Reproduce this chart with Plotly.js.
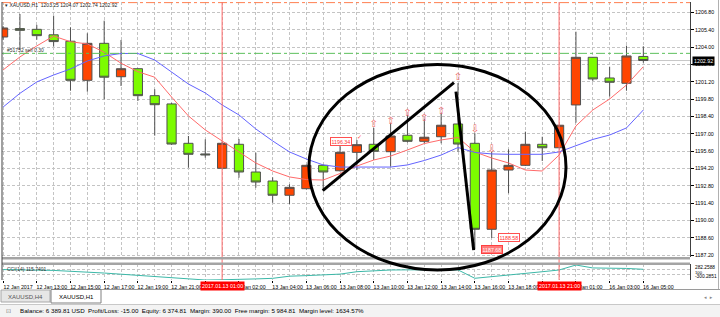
<!DOCTYPE html>
<html><head><meta charset="utf-8">
<script src="https://cdn.plot.ly/plotly-3.0.1.min.js"></script>
<style>html,body{margin:0;padding:0;background:#fff;}#chart{width:720px;height:317px;}</style>
</head><body><div id="chart"></div>
<script>
// ---- data (XAUUSD, H1) ----
const times = [
 "2017.01.12 11:00","2017.01.12 12:00","2017.01.12 13:00","2017.01.12 14:00","2017.01.12 15:00",
 "2017.01.12 16:00","2017.01.12 17:00","2017.01.12 18:00","2017.01.12 19:00","2017.01.12 20:00",
 "2017.01.12 21:00","2017.01.12 22:00","2017.01.12 23:00","2017.01.13 01:00","2017.01.13 02:00",
 "2017.01.13 03:00","2017.01.13 04:00","2017.01.13 05:00","2017.01.13 06:00","2017.01.13 07:00",
 "2017.01.13 08:00","2017.01.13 09:00","2017.01.13 10:00","2017.01.13 11:00","2017.01.13 12:00",
 "2017.01.13 13:00","2017.01.13 14:00","2017.01.13 15:00","2017.01.13 16:00","2017.01.13 17:00",
 "2017.01.13 18:00","2017.01.13 19:00","2017.01.13 20:00","2017.01.13 21:00","2017.01.16 01:00",
 "2017.01.16 02:00","2017.01.16 03:00","2017.01.16 04:00","2017.01.16 05:00"];
const open  = [1204.82,1205.50,1205.44,1205.00,1204.48,1201.32,1204.31,1201.61,1202.26,1200.08,
               1199.41,1196.23,1195.37,1194.21,1196.15,1193.91,1193.18,1192.03,1192.56,1194.45,
               1194.01,1195.50,1196.15,1195.55,1196.88,1196.39,1196.76,1197.79,1196.23,1189.28,
               1194.07,1194.45,1196.15,1195.87,1199.33,1203.18,1201.51,1201.08,1203.25];
const high  = [1205.70,1206.68,1205.80,1206.55,1205.60,1205.12,1206.14,1204.58,1202.30,1200.60,
               1199.50,1196.82,1196.55,1196.36,1196.58,1195.47,1193.48,1192.92,1194.50,1194.50,
               1196.01,1196.50,1197.47,1197.85,1198.52,1198.17,1198.66,1201.10,1197.04,1195.55,
               1195.74,1197.17,1196.76,1197.70,1205.25,1203.20,1202.42,1204.12,1204.07];
const low   = [1204.60,1203.77,1204.60,1204.04,1200.48,1200.40,1199.79,1200.86,1199.65,1196.85,
               1196.10,1194.26,1195.07,1194.20,1193.45,1192.64,1191.43,1191.32,1192.50,1192.45,
               1193.95,1194.07,1194.88,1194.34,1196.30,1196.23,1196.23,1195.55,1187.68,1188.58,
               1192.19,1194.40,1194.80,1195.85,1197.90,1201.27,1200.00,1200.48,1202.74];
const close = [1205.55,1205.36,1204.93,1204.45,1201.32,1204.31,1201.57,1202.26,1200.08,1199.35,
               1196.17,1195.34,1195.30,1196.23,1193.91,1193.10,1192.03,1192.67,1194.45,1193.91,
               1195.50,1196.12,1195.58,1196.82,1196.39,1196.72,1197.69,1196.17,1189.28,1194.07,
               1194.45,1196.15,1195.87,1197.69,1203.18,1201.43,1201.16,1203.29,1202.92];
const maFast = [1202.16,1203.21,1204.10,1204.90,1204.44,1204.26,1203.59,1202.70,1202.02,1201.57,
                1199.97,1198.44,1197.31,1196.42,1195.53,1194.64,1193.99,1193.51,1193.30,1193.26,
                1193.79,1194.39,1194.88,1195.20,1195.69,1196.21,1196.50,1196.70,1195.53,1195.04,
                1194.64,1194.07,1193.99,1195.28,1197.63,1198.92,1199.81,1200.94,1202.42];
const maSlow = [1199.16,1200.27,1201.19,1201.75,1202.24,1202.88,1203.29,1203.49,1203.49,1202.96,
                1201.99,1201.02,1200.30,1199.33,1198.52,1197.39,1196.42,1195.53,1194.96,1194.48,
                1194.31,1194.31,1194.31,1194.31,1194.48,1194.84,1195.28,1195.89,1195.49,1195.37,
                1195.34,1195.32,1195.34,1195.53,1196.05,1196.54,1196.90,1197.47,1198.92];
const cci = [104,101,97,72,38,12,-30,-75,-118,-170,
             -228,-276,-300.2851,-291,-262,-258,-236,-152,-131,-98,
             -72,22,58,88,93,96,104,92,-234,-176,
             -118,-52,21,88,282.2588,168,161,149,115.7401];
// trade arrows
const arrowUpBars   = [22,23,24,25,26,27];
const arrowUpPrice  = [1197.71,1197.98,1198.66,1198.25,1198.78,1201.53];
const arrowDnBars   = [28,29];
const arrowDnPrice  = [1197.31,1195.75];
// order levels
const stopLevel  = 1207.60;
const orderLevel = 1203.50;
const cursorBars = [13,33];
// ticks (labels partly hidden behind the cursor date boxes are cut as in the screenshot)
const tickBars = [0,2,4,6,8,10,12,14,16,18,20,22,24,26,28,30,32,34,36,38];
const tickLabels = ["12 Jan 2017","12 Jan 13:00","12 Jan 15:00","12 Jan 17:00","12 Jan 19:00","12 Jan 21:00",
  "","Jan 02:00","13 Jan 04:00","13 Jan 06:00","13 Jan 08:00","13 Jan 10:00","13 Jan 12:00",
  "13 Jan 14:00","13 Jan 16:00","13 Jan 18:00","","Jan 01:00","16 Jan 03:00","16 Jan 05:00"];
const priceTicks = [1187.20,1188.60,1190.00,1191.40,1192.80,1194.20,1195.60,1197.00,1198.40,1199.80,
                    1201.20,1202.60,1204.00,1205.40,1206.80];

// ---- drawing ----
const x = times.map((t,i)=>i);
const minorBars = x.filter(i=>i%2===1);
const F = 'Liberation Sans, Arial, sans-serif';
const FS = 5.3;
const PY = y => (280 - y) / 278;   // pixel row -> paper y
const PX = v => (v - 2) / 688;     // pixel col -> paper x
const GRID = '#c4c4c4';

const traces = [
 {type:'candlestick', x:x, open:open, high:high, low:low, close:close,
  increasing:{fillcolor:'#ff4500', line:{color:'#505050', width:1}},
  decreasing:{fillcolor:'#7cfc00', line:{color:'#505050', width:1}},
  whiskerwidth:0, hoverinfo:'none', xaxis:'x', yaxis:'y'},
 {type:'scatter', mode:'lines', x:x, y:maFast, line:{color:'#ff6a6a', width:1}, xaxis:'x', yaxis:'y', hoverinfo:'none'},
 {type:'scatter', mode:'lines', x:x, y:maSlow, line:{color:'#6464ff', width:1}, xaxis:'x', yaxis:'y', hoverinfo:'none'},
 {type:'scatter', mode:'text', x:arrowUpBars, y:arrowUpPrice, text:arrowUpBars.map(()=> '⇧'),
  textfont:{family:'DejaVu Sans', size:10, color:'#f06a6a'}, xaxis:'x', yaxis:'y', hoverinfo:'none'},
 {type:'scatter', mode:'text', x:arrowDnBars, y:arrowDnPrice, text:arrowDnBars.map(()=> '⇩'),
  textfont:{family:'DejaVu Sans', size:10, color:'#f06a6a'}, xaxis:'x', yaxis:'y', hoverinfo:'none'},
 {type:'scatter', mode:'lines', x:x, y:cci, line:{color:'#3cb8a8', width:1}, xaxis:'x', yaxis:'y2', hoverinfo:'none'}
];

const shapes = [
 {type:'line', xref:'paper', yref:'y', x0:0, x1:1, y0:stopLevel, y1:stopLevel, line:{color:'#ff7f50', width:1, dash:'dashdot'}},
 {type:'line', xref:'paper', yref:'y', x0:0, x1:1, y0:orderLevel, y1:orderLevel, line:{color:'#5cc05c', width:1, dash:'dashdot'}},
 {type:'line', xref:'paper', yref:'y', x0:0, x1:1, y0:close[close.length-1], y1:close[close.length-1], line:{color:'#c8c8c8', width:1}, layer:'below'},
 ...cursorBars.map(b=>({type:'line', xref:'x', yref:'paper', x0:b, x1:b, y0:0, y1:1, line:{color:'#ff6a6a', width:1}})),
 {type:'rect', xref:'paper', yref:'paper', x0:0, x1:1, y0:PY(259.5), y1:PY(257), fillcolor:'#a4a4a4', line:{width:0}},
 {type:'rect', xref:'paper', yref:'paper', x0:0, x1:1, y0:PY(265), y1:PY(262.5), fillcolor:'#a4a4a4', line:{width:0}},
 {type:'line', xref:'paper', yref:'paper', x0:0, x1:0, y0:0, y1:1, line:{color:'#404040', width:1}},
 {type:'line', xref:'x', yref:'y', x0:18.97, y0:1192.40, x1:26.76, y1:1201.13, line:{color:'#000', width:3}},
 {type:'line', xref:'x', yref:'y', x0:26.88, y0:1200.40, x1:27.93, y1:1187.60, line:{color:'#000', width:3}},
 {type:'circle', xref:'x', yref:'paper', x0:18.15, x1:33.41, y0:PY(270), y1:PY(64.5), line:{color:'#000', width:3}},
 {type:'rect', xref:'paper', yref:'paper', x0:PX(0), x1:PX(720), y0:PY(304), y1:PY(289), fillcolor:'#ffffff', line:{width:0}},
 {type:'line', xref:'paper', yref:'paper', x0:PX(101), x1:PX(720), y0:PY(289.5), y1:PY(289.5), line:{color:'#9a9a9a', width:1}},
 {type:'rect', xref:'paper', yref:'paper', x0:PX(1), x1:PX(50), y0:PY(302), y1:PY(290), fillcolor:'#e6e6e6', line:{color:'#a8a8a8', width:1}},
 {type:'rect', xref:'paper', yref:'paper', x0:PX(51), x1:PX(101), y0:PY(303), y1:PY(289.5), fillcolor:'#ffffff', line:{color:'#808080', width:1}},
 {type:'rect', xref:'paper', yref:'paper', x0:PX(0), x1:PX(720), y0:PY(317), y1:PY(305), fillcolor:'#f3f3f3', line:{width:0}},
 {type:'line', xref:'paper', yref:'paper', x0:PX(0), x1:PX(720), y0:PY(304.5), y1:PY(304.5), line:{color:'#c8c8c8', width:1}},
 {type:'line', xref:'paper', yref:'paper', x0:PX(718.5), x1:PX(718.5), y0:PY(289), y1:PY(0), line:{color:'#b0b0b0', width:1}}
];

const A = o => Object.assign({showarrow:false, font:{family:F, size:FS, color:'#000'}}, o);
const annotations = [
 A({xref:'paper', yref:'paper', x:PX(3), y:PY(5), xanchor:'left', yanchor:'middle', text:'▾ XAUUSD,H1  1203.25 1204.07 1202.74 1202.92', font:{family:F, size:5, color:'#222'}}),
 A({xref:'paper', yref:'paper', x:PX(5), y:PY(50), xanchor:'left', yanchor:'middle', text:'#51752 sell 0.30', font:{family:F, size:5, color:'#333'}}),
 A({xref:'paper', yref:'y', x:PX(692), y:close[close.length-1], xanchor:'left', yanchor:'middle', text:close[close.length-1].toFixed(2), bgcolor:'#000', borderpad:1, font:{family:F, size:FS, color:'#fff'}}),
 A({xref:'x', yref:'y', x:20.7, y:1196.34, xanchor:'right', yanchor:'middle', text:'1196.34', bgcolor:'#fff', bordercolor:'#ff5050', borderwidth:1, borderpad:0.5, font:{family:F, size:FS, color:'#ff3030'}}),
 A({xref:'x', yref:'y', x:20.9, y:1196.74, xanchor:'left', yanchor:'middle', text:'✓', font:{family:'DejaVu Sans', size:6, color:'#ff5050'}}),
 A({xref:'x', yref:'y', x:29.35, y:1188.58, xanchor:'left', yanchor:'middle', text:'1188.58', bgcolor:'#fff', bordercolor:'#ff5050', borderwidth:1, borderpad:0.5, font:{family:F, size:FS, color:'#ff3030'}}),
 A({xref:'x', yref:'y', x:28.35, y:1187.68, xanchor:'left', yanchor:'middle', text:'1187.68', bgcolor:'#ff7a7a', bordercolor:'#ff4040', borderwidth:1, borderpad:0.5, font:{family:F, size:FS, color:'#fff'}}),
 ...cursorBars.map(b=>A({xref:'x', yref:'paper', x:b, y:PY(285.5), xanchor:'center', yanchor:'middle', text:times[b], bgcolor:'#ff0000', borderpad:1, font:{family:F, size:FS, color:'#fff'}})),
 A({xref:'paper', yref:'paper', x:PX(5), y:PY(269), xanchor:'left', yanchor:'middle', text:'CCI(14) 115.7401', font:{family:F, size:5, color:'#333'}}),
 A({xref:'paper', yref:'paper', x:PX(693), y:PY(267.5), xanchor:'left', yanchor:'middle', text:'282.2588', font:{family:F, size:4.8, color:'#000'}}),
 A({xref:'paper', yref:'paper', x:PX(693), y:PY(272), xanchor:'left', yanchor:'middle', text:'100', font:{family:F, size:4.2, color:'#000'}}),
 A({xref:'paper', yref:'paper', x:PX(693), y:PY(276.8), xanchor:'left', yanchor:'middle', text:'-300.2851', font:{family:F, size:4.8, color:'#000'}}),
 A({xref:'paper', yref:'paper', x:PX(25.5), y:PY(296.5), xanchor:'center', yanchor:'middle', text:'XAUUSD,H4', font:{family:F, size:6, color:'#555'}}),
 A({xref:'paper', yref:'paper', x:PX(76), y:PY(296.5), xanchor:'center', yanchor:'middle', text:'XAUUSD,H1', font:{family:F, size:6, color:'#000'}}),
 A({xref:'paper', yref:'paper', x:PX(708), y:PY(297), xanchor:'center', yanchor:'middle', text:'◂  ▸', font:{family:'DejaVu Sans', size:5, color:'#888'}}),
 A({xref:'paper', yref:'paper', x:PX(4), y:PY(310.5), xanchor:'left', yanchor:'middle', text:'⊡', font:{family:'DejaVu Sans', size:6, color:'#777'}}),
 A({xref:'paper', yref:'paper', x:PX(18), y:PY(310.5), xanchor:'left', yanchor:'middle', text:'Balance: 6 389.81 USD  Profit/Loss: -15.00  Equity: 6 374.81  Margin: 390.00  Free margin: 5 984.81  Margin level: 1634.57%', font:{family:F, size:6.2, color:'#000'}})
];

const layout = {
 width:720, height:317, margin:{l:2, r:30, t:2, b:37},
 paper_bgcolor:'#fff', plot_bgcolor:'#fff', showlegend:false,
 font:{family:F, size:FS, color:'#000'},
 boxgap:0.22,
 xaxis:{anchor:'y2', range:[-0.065, 40.77], tickmode:'array', tickvals:tickBars, ticktext:tickLabels,
   ticks:'outside', ticklen:2, tickcolor:'#000', ticklabelshift:15,
   showgrid:true, gridcolor:GRID, griddash:'3px,2px', gridwidth:1,
   minor:{tickmode:'array', tickvals:minorBars, showgrid:true, gridcolor:GRID, griddash:'3px,2px', gridwidth:1, ticks:''},
   zeroline:false, showline:false, rangeslider:{visible:false}, fixedrange:true, tickfont:{family:F, size:FS, color:'#000'}},
 yaxis:{domain:[PY(257), 1], anchor:'x', side:'right', range:[1187.04, 1207.65], tickmode:'array',
   tickvals:priceTicks, ticktext:priceTicks.map(v=>v.toFixed(2)), ticks:'outside', ticklen:3, tickcolor:'#000',
   showgrid:true, gridcolor:GRID, griddash:'3px,2px', gridwidth:1, zeroline:false,
   showline:true, linecolor:'#404040', linewidth:1, fixedrange:true, tickfont:{family:F, size:FS, color:'#000'}},
 yaxis2:{domain:[0, PY(264)], anchor:'x', side:'right', range:[-300.29, 321.1], tickmode:'array', tickvals:[-100, 100],
   showticklabels:false, ticks:'', showgrid:true, gridcolor:GRID, griddash:'3px,2px', gridwidth:1, zeroline:false,
   showline:true, linecolor:'#404040', linewidth:1, fixedrange:true},
 shapes:shapes, annotations:annotations
};

Plotly.newPlot('chart', traces, layout, {staticPlot:true, displayModeBar:false});
</script></body></html>
